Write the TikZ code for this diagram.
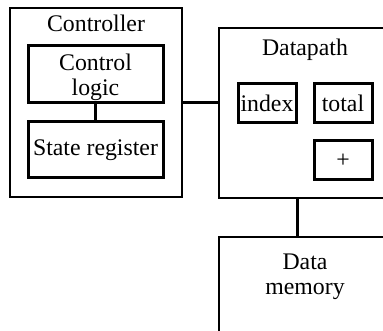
\documentclass[tikz,border=0pt]{standalone}
\usepackage{fontspec}
\setmainfont{Liberation Serif}
\begin{document}
\begin{tikzpicture}[x=1pt,y=-1pt,
  outerbox/.style={draw,line width=2.3pt,inner sep=0pt},
  innerbox/.style={draw,line width=3pt,inner sep=0pt,align=center,font=\fontsize{23.8}{25}\selectfont},
  lbl/.style={inner sep=0pt,align=center,font=\fontsize{23.8}{25.5}\selectfont},
  wire/.style={line width=2.3pt}]
\clip (0,0) rectangle (383,331);
\fill[white] (0,0) rectangle (383,331);
\node[outerbox,minimum width=172pt,minimum height=189pt] (ctrl) at (96,102.5) {};
\node[lbl] (ctrllbl) at (96,23) {Controller};
\node[innerbox,minimum width=135pt,minimum height=57pt] (cl) at (95.5,74) {};
\node[lbl] (cllbl) at (95.5,77.5) {Control\\logic};
\node[innerbox,minimum width=135pt,minimum height=56pt] (sr) at (95.5,150) {State register};
\node[outerbox,minimum width=176pt,minimum height=170pt] (dp) at (307,112.7) {};
\node[lbl] (dplbl) at (305,50) {Datapath};
\node[innerbox,minimum width=58pt,minimum height=39pt] (idx) at (267,103.5) {index};
\node[innerbox,minimum width=58pt,minimum height=39pt] (tot) at (343,103.5) {total};
\node[innerbox,minimum width=58pt,minimum height=39pt] (plus) at (343,160.5) {+};
\node[outerbox,minimum width=176pt,minimum height=108pt] (dm) at (307,291) {};
\node[lbl] (dmlbl) at (305,277) {Data\\memory};
\draw[wire] (cl.south) -- (sr.north);
\draw[wire] (ctrl.east) -- (ctrl.east -| dp.west);
\draw[wire] (idx.east |- dp.south) -- (idx.east |- dm.north);
\end{tikzpicture}
\end{document}
